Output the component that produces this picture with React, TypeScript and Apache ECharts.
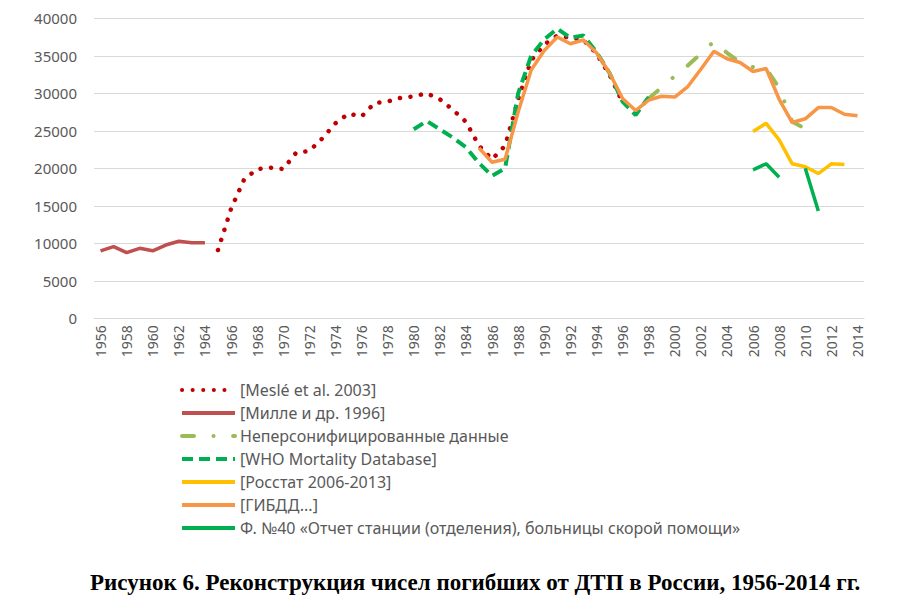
import { useEffect, useRef } from "react";
import * as echarts from "echarts";

const years = [
  "1956","1957","1958","1959","1960","1961","1962","1963","1964","1965",
  "1966","1967","1968","1969","1970","1971","1972","1973","1974","1975",
  "1976","1977","1978","1979","1980","1981","1982","1983","1984","1985",
  "1986","1987","1988","1989","1990","1991","1992","1993","1994","1995",
  "1996","1997","1998","1999","2000","2001","2002","2003","2004","2005",
  "2006","2007","2008","2009","2010","2011","2012","2013","2014",
];

// [Meslé et al. 2003], 1965–1996
const mesleStart = 1965;
const mesleValues = [
  9100, 14600, 18500, 19900, 20100, 19900, 22100, 22300, 24000, 26000,
  27300, 26900, 28700, 28900, 29400, 29600, 30000, 29200, 27800, 26200,
  23000, 21200, 23000, 29200, 34400, 36500, 37700, 37400, 37100, 35300,
  32500, 28800,
];

// [Милле и др. 1996], 1956–1964
const milleStart = 1956;
const milleValues = [9000, 9550, 8750, 9330, 9000, 9770, 10270, 10080, 10080];

// Неперсонифицированные данные, 1998–2011
const nonPersStart = 1998;
const nonPersValues = [
  29300, 30800, 32300, 33700, 35300, 36900, 35400, 34100, 33500, 33300,
  30700, 26200, 25300, 25800,
];

// [WHO Mortality Database], 1980–1998
const whoStart = 1980;
const whoValues = [
  25200, 26300, 25200, 24100, 22800, 20700, 19000, 20000, 30000, 35000,
  37200, 38600, 37400, 37700, 35500, 32700, 28900, 27100, 29500,
];

// [Росстат 2006-2013]
const rosstatStart = 2006;
const rosstatValues = [24900, 26000, 23800, 20600, 20200, 19300, 20600, 20500];

// [ГИБДД...], 1985–2014
const gibddStart = 1985;
const gibddValues = [
  22700, 20800, 21200, 27500, 33100, 35700, 37500, 36600, 37100, 35400,
  32700, 29300, 27700, 29100, 29600, 29500, 30900, 33200, 35600, 34600,
  34100, 32900, 33300, 29200, 26100, 26600, 28100, 28100, 27200, 27000,
];

// Ф. №40, 2006–2011 (2009 missing)
const f40Start = 2006;
const f40Values: (number | null)[] = [19800, 20600, 18800, null, 20000, 14300];

const yTicks = { min: 0, max: 40000, interval: 5000 };

function pad(start: number, values: (number | null)[]) {
  const first = Number(years[0]);
  const out: (number | null)[] = years.map(() => null);
  values.forEach((v, i) => {
    const idx = start - first + i;
    if (idx >= 0 && idx < out.length) out[idx] = v;
  });
  return out;
}

const FONT = "Noto Sans";
const GREY = "#595959";

export default function App() {
  const ref = useRef<HTMLDivElement>(null);
  useEffect(() => {
    document.body.style.margin = "0";
    const chart = echarts.init(ref.current!, null, { renderer: "svg" });
    const line = (
      name: string,
      start: number,
      values: (number | null)[],
      lineStyle: any
    ) => ({
      name,
      type: "line",
      data: pad(start, values),
      symbol: "none",
      showSymbol: false,
      connectNulls: false,
      lineStyle,
      itemStyle: { color: lineStyle.color },
      emphasis: { disabled: true },
    });
    chart.setOption({
      animation: false,
      title: {
        text: "Рисунок 6. Реконструкция чисел погибших от ДТП в России, 1956-2014 гг.",
        left: 90,
        top: 571,
        padding: 0,
        textStyle: {
          fontFamily: "Liberation Serif",
          fontWeight: "bold",
          fontSize: 23,
          color: "#000",
        },
      },
      grid: { left: 94, top: 18.3, width: 770, height: 300, containLabel: false },
      xAxis: {
        type: "category",
        data: years,
        boundaryGap: true,
        axisLine: { show: true, lineStyle: { color: "#D9D9D9", width: 1 } },
        axisTick: { show: false },
        axisLabel: {
          interval: 1,
          rotate: 90,
          margin: 7,
          color: GREY,
          fontFamily: FONT,
          fontSize: 14,
        },
        splitLine: { show: false },
      },
      yAxis: {
        type: "value",
        min: yTicks.min,
        max: yTicks.max,
        interval: yTicks.interval,
        axisLine: { show: false },
        axisTick: { show: false },
        axisLabel: {
          color: GREY,
          fontFamily: FONT,
          fontSize: 15,
          margin: 17,
          formatter: (v: number) => String(v),
        },
        splitLine: { lineStyle: { color: "#D9D9D9", width: 1 } },
      },
      legend: {
        orient: "vertical",
        left: 175,
        top: 377,
        itemWidth: 53,
        itemHeight: 14,
        itemGap: 7,
        itemStyle: { opacity: 0 },
        lineStyle: { width: 4 },
        textStyle: { color: GREY, fontFamily: FONT, fontSize: 16 },
        data: [
          "[Meslé et al. 2003]",
          "[Милле и др. 1996]",
          "Неперсонифицированные данные",
          "[WHO Mortality Database]",
          "[Росстат 2006-2013]",
          "[ГИБДД...]",
          "Ф. №40 «Отчет станции (отделения), больницы скорой помощи»",
        ],
      },
      series: [
        line("[Meslé et al. 2003]", mesleStart, mesleValues, {
          color: "#C00000", width: 4.5, type: [0.1, 10.5], cap: "round",
        }),
        line("[Милле и др. 1996]", milleStart, milleValues, {
          color: "#C0504D", width: 3.5, type: "solid",
        }),
        line("Неперсонифицированные данные", nonPersStart, nonPersValues, {
          color: "#9BBB59", width: 4, type: [12, 19.5, 0.1, 19.5], cap: "round",
        }),
        line("[WHO Mortality Database]", whoStart, whoValues, {
          color: "#00B050", width: 4, type: [11, 6], cap: "butt",
        }),
        line("[Росстат 2006-2013]", rosstatStart, rosstatValues, {
          color: "#FFC000", width: 3.5, type: "solid",
        }),
        line("[ГИБДД...]", gibddStart, gibddValues, {
          color: "#F79646", width: 3.5, type: "solid",
        }),
        line("Ф. №40 «Отчет станции (отделения), больницы скорой помощи»", f40Start, f40Values, {
          color: "#00B050", width: 3.5, type: "solid",
        }),
      ],
    });
    return () => chart.dispose();
  }, []);
  return <div ref={ref} style={{ width: 900, height: 598 }} />;
}
